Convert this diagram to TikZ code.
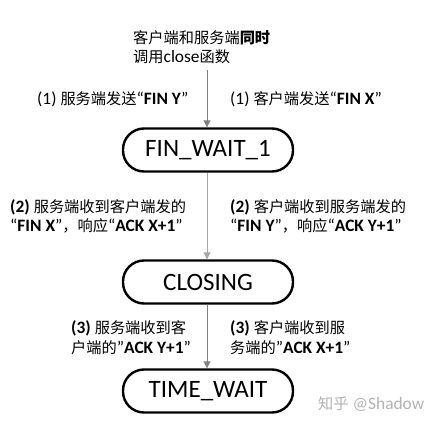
\documentclass[tikz,border=0pt]{standalone}
\usepackage{fontspec}
\setmainfont{Carlito}
\newfontfamily\cjk[Scale=0.875]{Noto Sans CJK SC}
\usetikzlibrary{arrows.meta}
\newcommand{\zh}[1]{{\cjk #1}}
\newcommand{\zhb}[1]{{\cjk\bfseries #1}}
\begin{document}
\begin{tikzpicture}[x=1pt,y=-1pt,
  state/.style={draw, line width=2.4pt, rounded corners=21pt, minimum width=170pt, minimum height=43pt, inner sep=0pt, font=\fontsize{25}{25}\selectfont},
  lbl/.style={anchor=west, align=left, inner sep=0pt, font=\fontsize{17.4}{19.5}\selectfont},
  flow/.style={-{Triangle[length=7pt,width=7pt]}, line width=1pt}]
\useasboundingbox (0,0) rectangle (424,423);
\node[lbl] (top) at (133,47) {\zh{客户端和服务端}\zhb{同时}\\\zh{调用}close\zh{函数}};
\node[state] (fw) at (208,150) {FIN\_WAIT\_1};
\node[state] (cl) at (208,282) {CLOSING};
\node[state] (tw) at (208,391) {TIME\_WAIT};
\coordinate (start) at (207,70);
\draw[flow, draw=black!50, fill=black!50] (start) -- (fw.north -| start);
\draw[flow, draw=black!35, fill=black!35] (fw.south -| start) -- (cl.north -| start);
\draw[flow, draw=black!50, fill=black!50] (cl.south -| start) -- (tw.north -| start);
\node[lbl] (l1) at (37,99) {(1) \zh{服务端发送}“\textbf{FIN Y}”};
\node[lbl] (r1) at (230,99) {(1) \zh{客户端发送}“\textbf{FIN X}”};
\node[lbl] (l2) at (10,216.5) {\textbf{(2)} \zh{服务端收到客户端发的}\\“\textbf{FIN X}”\zh{，响应}“\textbf{ACK X+1}”};
\node[lbl] (r2) at (230,216.5) {\textbf{(2)} \zh{客户端收到服务端发的}\\“\textbf{FIN Y}”\zh{，响应}“\textbf{ACK Y+1}”};
\node[lbl] (l3) at (71,337.5) {\textbf{(3)} \zh{服务端收到客}\\\zh{户端的}"\textbf{ACK Y+1}”};
\node[lbl] (r3) at (230,337.5) {\textbf{(3)} \zh{客户端收到服}\\\zh{务端的}"\textbf{ACK X+1}”};
\node[lbl, text=black!30] (wm) at (318,404) {\zh{知乎} @Shadow};
\end{tikzpicture}
\end{document}
